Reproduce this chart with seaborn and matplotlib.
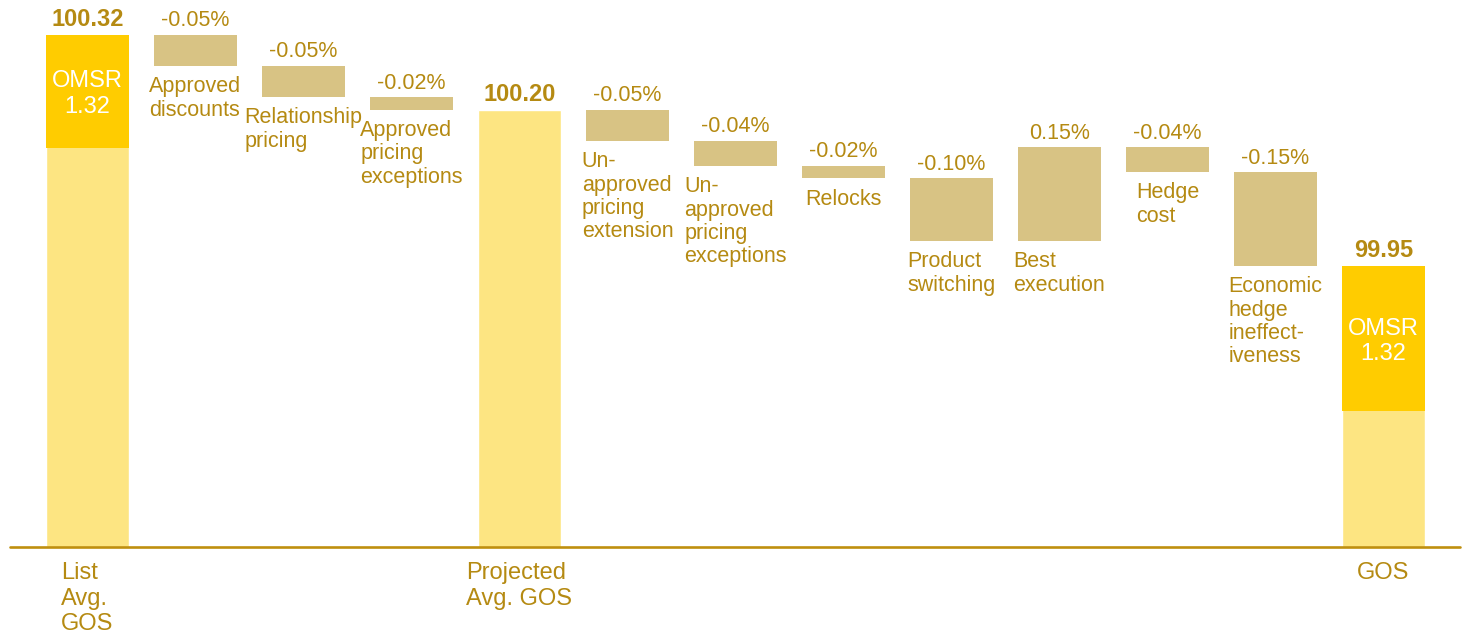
import numpy as np
import pandas as pd
import matplotlib
matplotlib.use("Agg")
import matplotlib.pyplot as plt
import seaborn as sns

# ---- data -------------------------------------------------------------
steps = [
    "List\nAvg.\nGOS",
    "Approved\ndiscounts",
    "Relationship\npricing",
    "Approved\npricing\nexceptions",
    "Projected\nAvg. GOS",
    "Un-\napproved\npricing\nextension",
    "Un-\napproved\npricing\nexceptions",
    "Relocks",
    "Product\nswitching",
    "Best\nexecution",
    "Hedge\ncost",
    "Economic\nhedge\nineffect-\niveness",
    "GOS",
]
kinds = ["total", "delta", "delta", "delta", "total",
         "delta", "delta", "delta", "delta", "delta", "delta", "delta",
         "total"]
totals = [100.32, 100.20, 99.95]
deltas = [-0.05, -0.05, -0.02, -0.05, -0.04, -0.02, -0.10, 0.15, -0.04, -0.15]
omsr_steps = ["List\nAvg.\nGOS", "GOS"]
omsr_values = [1.32, 1.32]
omsr_band = [0.181, 0.232]   # OMSR share shown at the top of the two GOS bars
base = 99.50                 # value at the baseline rule

# ---- styling ----------------------------------------------------------
LIGHT = "#FDE582"
OMSR = "#FFCC00"
TAN = "#D8C384"
TEXT = "#B58A12"
RULE = "#BF8F0E"
BAR_W = 0.77

sns.set_theme(style="white")
plt.rcParams["font.family"] = ["Liberation Sans", "DejaVu Sans"]

fig = plt.figure(figsize=(14.66, 6.34), dpi=100)
ax = fig.add_axes([0, 0, 1, 1])

# ---- waterfall geometry ----------------------------------------------
tot_it = iter(totals)
del_it = iter(deltas)
running = None
rows = []
for i, (name, kind) in enumerate(zip(steps, kinds)):
    if kind == "total":
        t = next(tot_it)
        running = t
        rows.append(dict(pos=i, step=name, kind=kind, lo=base, hi=t, value=t))
    else:
        d = next(del_it)
        start = running
        running = round(running + d, 4)
        rows.append(dict(pos=i, step=name, kind=kind,
                         lo=min(start, running), hi=max(start, running), value=d))
df = pd.DataFrame(rows)

# total bars, standing on the baseline
tot_df = df[df.kind == "total"].copy()
tot_df["height"] = tot_df["hi"] - tot_df["lo"]
sns.barplot(data=tot_df, x="step", y="height", order=steps, bottom=base,
            color=LIGHT, saturation=1, width=BAR_W, errorbar=None, ax=ax)

# OMSR share at the top of the GOS bars
omsr_pos = [steps.index(s) for s in omsr_steps]
omsr_top = [df.loc[p, "hi"] for p in omsr_pos]
ax.bar(omsr_pos, omsr_band, bottom=[t - b for t, b in zip(omsr_top, omsr_band)],
       width=BAR_W, color=OMSR, linewidth=0)

# floating change bars
del_df = df[df.kind == "delta"]
ax.bar(del_df["pos"], del_df["hi"] - del_df["lo"], bottom=del_df["lo"],
       width=BAR_W, color=TAN, linewidth=0)

# ---- labels -----------------------------------------------------------
for _, r in df.iterrows():
    if r.kind == "total":
        ax.annotate(f"{r.value:.2f}", (r.pos, r.hi), xytext=(0, 6),
                    textcoords="offset points", ha="center", va="baseline",
                    fontsize=17, fontweight="bold", color=TEXT)
        ax.annotate(r.step, (r.pos, base), xytext=(0, -11),
                    textcoords="offset points", ha="center", va="top",
                    multialignment="left", fontsize=17, color=TEXT,
                    linespacing=1.2)
    else:
        ax.annotate(f"{r.value:.2f}%", (r.pos, r.hi), xytext=(0, 6),
                    textcoords="offset points", ha="center", va="baseline",
                    fontsize=15.5, color=TEXT)
        ax.annotate(r.step, (r.pos, r.lo), xytext=(0, -7.5),
                    textcoords="offset points", ha="center", va="top",
                    multialignment="left", fontsize=15.5, color=TEXT,
                    linespacing=1.15)

for p, t, b, v in zip(omsr_pos, omsr_top, omsr_band, omsr_values):
    ax.annotate(f"OMSR\n{v:.2f}", (p, t - b / 2), xytext=(0, -2.2),
                textcoords="offset points", ha="center", va="center",
                multialignment="center", fontsize=17, color="white",
                linespacing=1.2)

# baseline rule
ax.axhline(base, xmin=10 / 1466, xmax=1460 / 1466, color=RULE, lw=1.9)

ax.set_xlim(-0.810, 12.764)
ax.set_ylim(base - 87 / 625, base + 547 / 625)
ax.set_axis_off()

fig.savefig("out.png", dpi=100)
